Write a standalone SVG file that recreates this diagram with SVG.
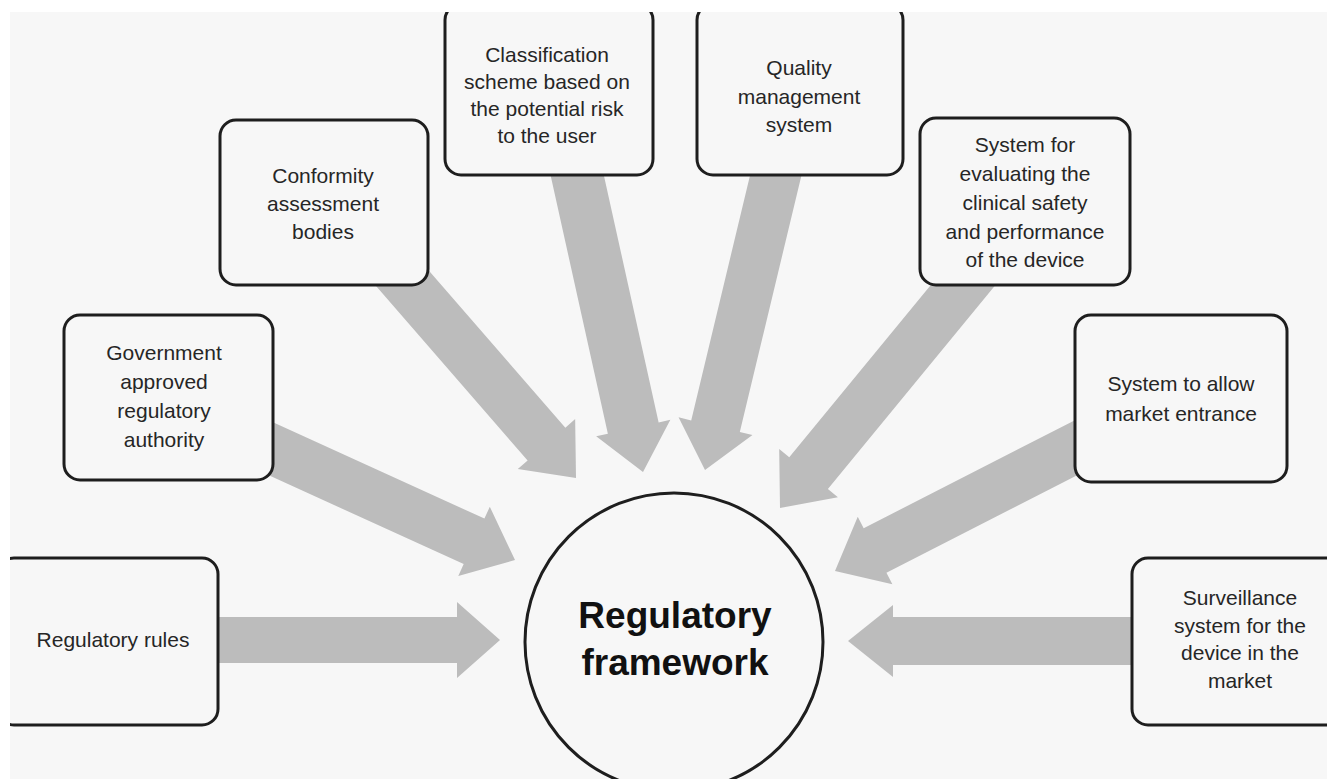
<svg xmlns="http://www.w3.org/2000/svg" width="1327" height="779" viewBox="0 0 1327 779">
<style>
.box{fill:#f7f7f7;stroke:#1e1e1e;stroke-width:3}
.arr{fill:#bcbcbc}
.t{font-family:"Liberation Sans",Arial,sans-serif;font-size:21px;fill:#262626;text-anchor:middle}
.big{font-family:"Liberation Sans",Arial,sans-serif;font-size:37px;font-weight:bold;fill:#111;text-anchor:middle}
</style>
<defs>
<clipPath id="pic"><rect x="10" y="12" width="1317" height="767"/></clipPath>
<polygon id="ah" points="0,-25 -45,-25 -45,-38 0,0 -45,38 -45,25"/>
</defs>
<rect x="0" y="0" width="1327" height="779" fill="#ffffff"/>
<rect x="10" y="12" width="1317" height="767" fill="#f7f7f7"/>
<g clip-path="url(#pic)">
<g id="connectors">
<g transform="translate(500,640)"><polygon class="arr" points="-300,-23 -43,-23 -43,-38 0,0 -43,38 -43,23 -300,23"/></g>
<g transform="translate(848,641) rotate(180)"><polygon class="arr" points="-302,-24 -45,-24 -45,-36 0,0 -45,36 -45,24 -302,24"/></g>
<g transform="translate(515,560) rotate(24.5)"><polygon class="arr" points="-290,-25 -45,-25 -45,-38 0,0 -45,38 -45,25 -290,25"/></g>
<g transform="translate(576,478) rotate(49)"><polygon class="arr" points="-280,-25 -45,-25 -45,-38 0,0 -45,38 -45,25 -280,25"/></g>
<g transform="translate(643,472) rotate(77.5)"><polygon class="arr" points="-320,-26 -45,-26 -45,-38 0,0 -45,38 -45,26 -320,26"/></g>
<g transform="translate(705,470) rotate(103.5)"><polygon class="arr" points="-320,-25 -45,-25 -45,-38 0,0 -45,38 -45,25 -320,25"/></g>
<g transform="translate(780,508) rotate(129.4)"><polygon class="arr" points="-310,-25 -45,-25 -45,-38 0,0 -45,38 -45,25 -310,25"/></g>
<g transform="translate(835,571) rotate(152.9)"><polygon class="arr" points="-290,-25 -45,-25 -45,-38 0,0 -45,38 -45,25 -290,25"/></g>
</g>
<g id="n-rules"><rect class="box" x="-2" y="558" width="220" height="167" rx="16"/>
<text class="t" x="113" y="647">Regulatory rules</text></g>
<g id="n-gov"><rect class="box" x="64" y="315" width="209" height="165" rx="16"/>
<text class="t" x="164" y="360">Government</text><text class="t" x="164" y="389">approved</text><text class="t" x="164" y="418">regulatory</text><text class="t" x="164" y="447">authority</text></g>
<g id="n-conf"><rect class="box" x="220" y="120" width="208" height="165" rx="16"/>
<text class="t" x="323" y="183">Conformity</text><text class="t" x="323" y="211">assessment</text><text class="t" x="323" y="239">bodies</text></g>
<g id="n-class"><rect class="box" x="445" y="4" width="208" height="171" rx="16"/>
<text class="t" x="547" y="62">Classification</text><text class="t" x="547" y="89">scheme based on</text><text class="t" x="547" y="116">the potential risk</text><text class="t" x="547" y="143">to the user</text></g>
<g id="n-qms"><rect class="box" x="697" y="4" width="206" height="171" rx="16"/>
<text class="t" x="799" y="75">Quality</text><text class="t" x="799" y="104">management</text><text class="t" x="799" y="132">system</text></g>
<g id="n-eval"><rect class="box" x="920" y="118" width="210" height="167" rx="16"/>
<text class="t" x="1025" y="152">System for</text><text class="t" x="1025" y="181">evaluating the</text><text class="t" x="1025" y="210">clinical safety</text><text class="t" x="1025" y="239">and performance</text><text class="t" x="1025" y="267">of the device</text></g>
<g id="n-market"><rect class="box" x="1075" y="315" width="212" height="167" rx="16"/>
<text class="t" x="1181" y="391">System to allow</text><text class="t" x="1181" y="421">market entrance</text></g>
<g id="n-surv"><rect class="box" x="1132" y="558" width="215" height="167" rx="16"/>
<text class="t" x="1240" y="605">Surveillance</text><text class="t" x="1240" y="633">system for the</text><text class="t" x="1240" y="660">device in the</text><text class="t" x="1240" y="688">market</text></g>
<g id="n-center"><circle cx="674" cy="642" r="149" fill="#f7f7f7" stroke="#1e1e1e" stroke-width="3"/>
<text class="big" x="675" y="628">Regulatory</text><text class="big" x="675" y="675">framework</text></g>
</g>
</svg>
